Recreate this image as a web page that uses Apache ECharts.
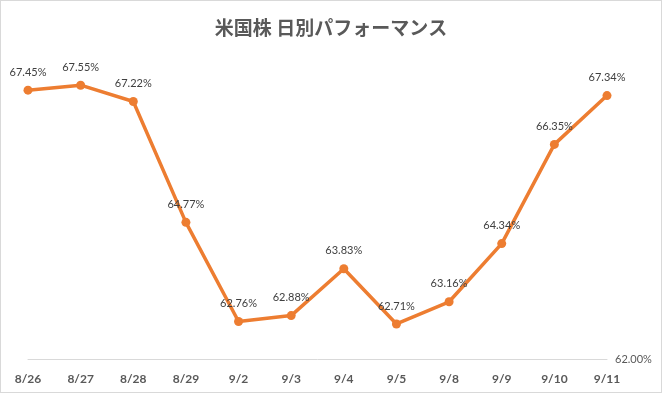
<!DOCTYPE html>
<html><head><meta charset="utf-8">
<script src="https://cdn.jsdelivr.net/npm/echarts@6/dist/echarts.min.js"></script>
<style>html,body{margin:0;padding:0;background:#fff}#c{width:660px;height:391px;border:1px solid #d9d9d9}</style>
</head><body><div id="c"></div>
<script>
const categories = ['8/26','8/27','8/28','8/29','9/2','9/3','9/4','9/5','9/8','9/9','9/10','9/11'];
const values = [67.45,67.55,67.22,64.77,62.76,62.88,63.83,62.71,63.16,64.34,66.35,67.34];
const yMin = 62, yMax = 68;
const chart = echarts.init(document.getElementById('c'));
chart.setOption({
  animation:false,
  title:{text:'米国株 日別パフォーマンス',left:'center',top:12,textStyle:{fontFamily:'Noto Sans CJK JP',fontSize:19,fontWeight:'bold',color:'#595959'}},
  grid:{left:27,right:54,top:62,bottom:33},
  xAxis:{type:'category',data:categories,boundaryGap:false,
    axisLine:{lineStyle:{color:'#d9d9d9'}},axisTick:{show:false},
    axisLabel:{color:'#595959',fontWeight:'bold',fontSize:12,margin:14,fontFamily:'Lato, sans-serif'}},
  yAxis:{type:'value',position:'right',min:yMin,max:yMax,interval:6,
    splitLine:{show:false},axisLine:{show:false},axisTick:{show:false},
    axisLabel:{color:'#595959',fontSize:11,margin:8,fontFamily:'Lato, sans-serif',
      formatter:v=>v===yMin?v.toFixed(2)+'%':''}},
  series:[{type:'line',data:values,symbol:'circle',symbolSize:9,
    lineStyle:{color:'#ED7D31',width:3.5},itemStyle:{color:'#ED7D31'},
    label:{show:true,position:'top',distance:8,color:'#404040',fontSize:11,fontFamily:'Lato, sans-serif',
      formatter:p=>p.value.toFixed(2)+'%'}}]
});
</script></body></html>
